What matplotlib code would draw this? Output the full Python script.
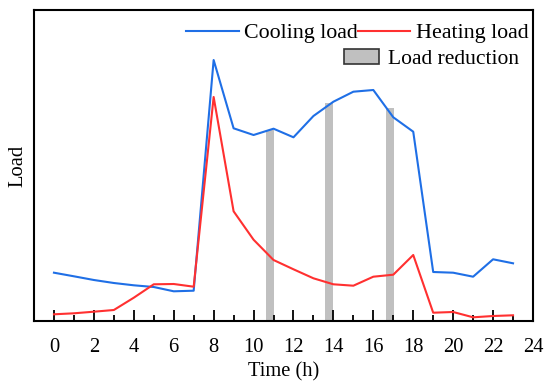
import matplotlib
matplotlib.use("Agg")
import matplotlib.pyplot as plt
from matplotlib.patches import Patch
from matplotlib.lines import Line2D
from matplotlib.ticker import MultipleLocator

plt.rcParams['font.family'] = ['Liberation Serif', 'DejaVu Serif']

hours = list(range(24))
cooling = [48.3, 44.7, 41.0, 38.0, 35.7, 34.0, 29.7, 30.3, 261.0, 192.7, 186.0, 192.3,
           183.7, 205.0, 219.3, 229.3, 231.0, 203.7, 189.3, 49.0, 48.3, 44.3, 61.7, 57.7]
heating = [6.7, 7.7, 9.3, 11.0, 23.3, 36.7, 37.0, 34.3, 224.0, 109.7, 81.3, 61.0,
           51.7, 42.7, 36.7, 35.3, 44.3, 46.3, 66.0, 8.3, 9.0, 3.7, 5.0, 5.7]
reduction_x = [10.8, 13.8, 16.85]
reduction_h = [191.0, 217.7, 212.7]
xtick_vals = list(range(0, 25, 2))

fig = plt.figure(figsize=(5.5, 3.86), dpi=100)
ax = fig.add_axes([34/550, 1 - 321/386, (533 - 34)/550, (321 - 10)/386])

ax.bar(reduction_x, reduction_h, width=0.4, color='#c0c0c0', zorder=1)
ax.plot(hours, cooling, color='#1f6fe6', lw=1.5, zorder=3)
ax.plot(hours, heating, color='#ff3030', lw=1.5, zorder=3)

ax.set_xlim(-1, 24)
ax.set_ylim(0, 311)
ax.set_xticks(xtick_vals)
ax.xaxis.set_minor_locator(MultipleLocator(1))
ax.tick_params(axis='x', which='major', direction='in', length=8, width=1.3,
               labelsize=14.8, pad=12)
ax.tick_params(axis='x', which='minor', direction='in', length=4.5, width=1.3)
ax.set_yticks([])
for s in ax.spines.values():
    s.set_linewidth(1.5)

ax.set_xlabel('Time (h)', fontsize=14.8, labelpad=4)
ax.set_ylabel('Load', fontsize=14.8, labelpad=5)

h1 = [Line2D([], [], color='#1f6fe6', lw=1.5), Line2D([], [], color='#ff3030', lw=1.5)]
leg1 = ax.legend(h1, ['Cooling load', 'Heating load'], ncol=2, frameon=False,
                 loc='upper right', bbox_to_anchor=(1.0, 0.972), fontsize=15.8,
                 handlelength=2.4, handletextpad=0.25, columnspacing=0.0,
                 borderaxespad=0, borderpad=0.2)
ax.add_artist(leg1)
h2 = [Patch(facecolor='#c0c0c0', edgecolor='#333333', lw=1.2)]
ax.legend(h2, ['Load reduction'], frameon=False, loc='upper right',
          bbox_to_anchor=(0.98, 0.889), fontsize=15.5, handlelength=1.65,
          handleheight=0.7, handletextpad=0.4, borderaxespad=0, borderpad=0.2)

fig.savefig('out.png', dpi=100)
